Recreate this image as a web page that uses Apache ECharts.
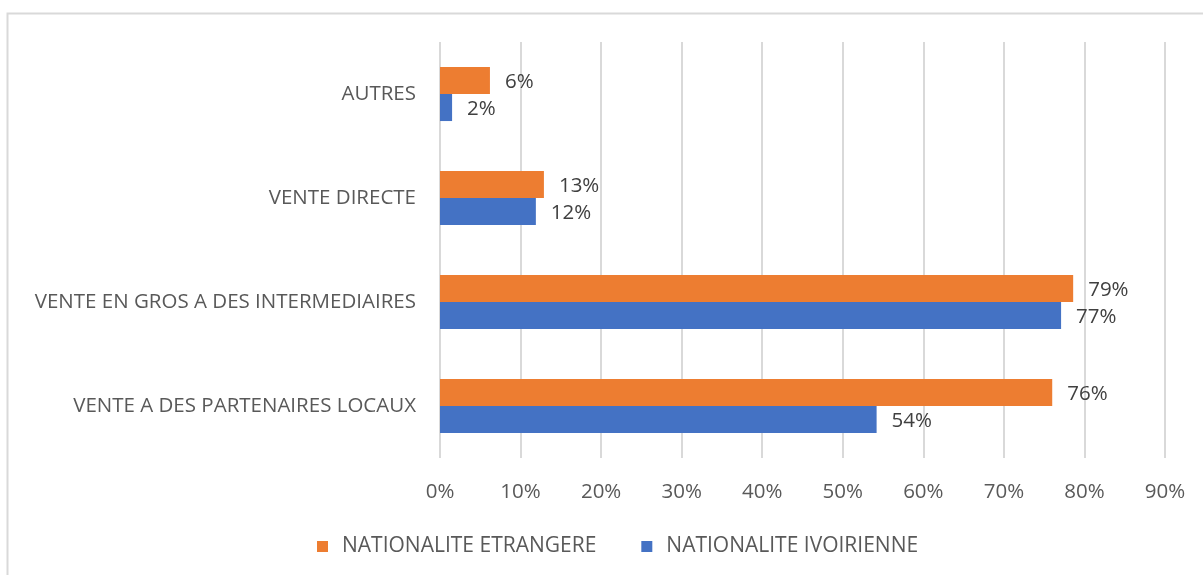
<!DOCTYPE html>
<html>
<head>
<meta charset="utf-8">
<script src="https://cdn.jsdelivr.net/npm/echarts@6/dist/echarts.min.js"></script>
<style>
  html, body { margin: 0; padding: 0; background: #fff; }
  #chart { width: 1203px; height: 575px; }
</style>
</head>
<body>
<div id="chart"></div>
<script>
// categories, bottom to top as on the y axis
const categories = [
  'VENTE A DES PARTENAIRES LOCAUX',
  'VENTE EN GROS A DES INTERMEDIAIRES',
  'VENTE DIRECTE',
  'AUTRES'
];
const etrangere = [76.0, 78.6, 12.9, 6.2];
const ivoirienne = [54.2, 77.1, 11.9, 1.5];
const xTicks = [0, 10, 20, 30, 40, 50, 60, 70, 80, 90];

const font = 'Open Sans';
const fs = 20.5;
const chart = echarts.init(document.getElementById('chart'));

const label = {
  show: true,
  position: 'right',
  distance: 15,
  offset: [0, 2],
  color: '#404040',
  fontFamily: font,
  fontSize: fs,
  formatter: p => Math.round(p.value) + '%'
};

chart.setOption({
  animation: false,
  graphic: [{
    type: 'rect',
    shape: { x: 7.5, y: 13.5, width: 1210, height: 580 },
    style: { fill: 'none', stroke: '#d9d9d9', lineWidth: 2 },
    silent: true
  }],
  legend: {
    data: ['NATIONALITE ETRANGERE', 'NATIONALITE IVOIRIENNE'],
    left: 312,
    top: 531,
    itemWidth: 11,
    itemHeight: 11,
    itemGap: 45,
    icon: 'rect',
    textStyle: { color: '#595959', fontFamily: font, fontSize: 21, padding: [0, 0, 0, 9] }
  },
  grid: { left: 440, right: 38, top: 42, bottom: 117 },
  xAxis: {
    type: 'value',
    min: xTicks[0],
    max: xTicks[xTicks.length - 1],
    interval: 10,
    axisLine: { show: false },
    axisTick: { show: false },
    axisLabel: {
      color: '#595959', fontFamily: font, fontSize: fs, margin: 24,
      formatter: v => v + '%'
    },
    splitLine: { lineStyle: { color: '#d9d9d9', width: 2 } }
  },
  yAxis: {
    type: 'category',
    data: categories,
    axisLine: { show: false },
    axisTick: { show: false },
    axisLabel: { color: '#595959', fontFamily: font, fontSize: fs, margin: 24 }
  },
  series: [
    {
      name: 'NATIONALITE ETRANGERE',
      type: 'bar',
      data: etrangere,
      itemStyle: { color: '#ed7d31' },
      barGap: '0%',
      barCategoryGap: '48%',
      label: label
    },
    {
      name: 'NATIONALITE IVOIRIENNE',
      type: 'bar',
      data: ivoirienne,
      itemStyle: { color: '#4472c4' },
      label: label
    }
  ]
});
</script>
</body>
</html>
